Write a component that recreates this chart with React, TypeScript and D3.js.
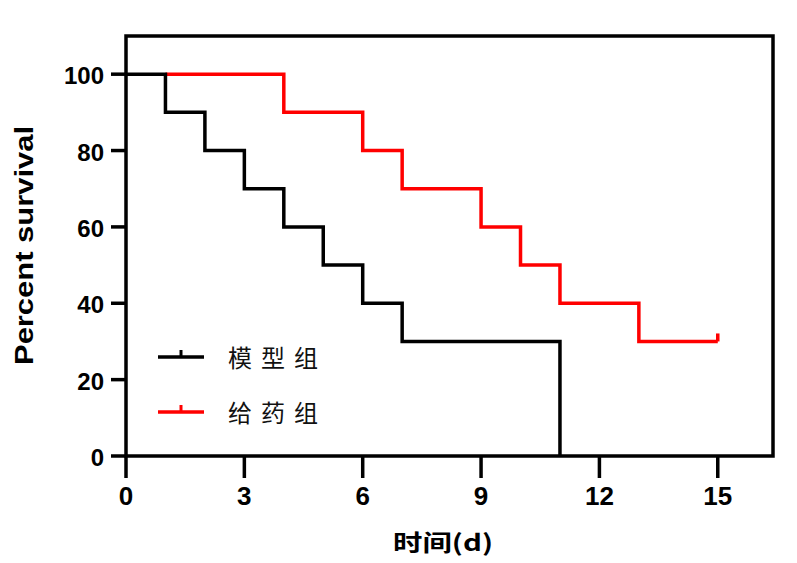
import React, { useEffect, useRef } from 'react';
import * as d3 from 'd3';

const seriesNames = ['模型组', '给药组'];
const seriesColors = ['#000000', '#ff0000'];
// step points [day, percent]
const modelSteps: [number, number][] = [
  [0, 100], [1, 90], [2, 80], [3, 70], [4, 60], [5, 50], [6, 40], [7, 30], [11, 0],
];
const modelEnd = 11;
const drugSteps: [number, number][] = [
  [1, 100], [4, 90], [6, 80], [7, 70], [9, 60], [10, 50], [11, 40], [13, 30],
];
const drugEnd = 15;
const xTicks = [0, 3, 6, 9, 12, 15];
const yTicks = [0, 20, 40, 60, 80, 100];

const App: React.FC = () => {
  const svgRef = useRef<SVGSVGElement>(null);

  useEffect(() => {
    if (!svgRef.current) return;
    const svg = d3.select(svgRef.current);
    svg.selectAll('*').remove();

    const left = 126, right = 773, top = 36, bottom = 456;
    const x = d3.scaleLinear().domain([0, 16.4]).range([left, right]);
    const y = d3.scaleLinear().domain([0, 110]).range([bottom, top]);
    const font = '"Liberation Sans", Arial, sans-serif';

    // frame
    svg.append('rect')
      .attr('x', left).attr('y', top)
      .attr('width', right - left).attr('height', bottom - top)
      .attr('fill', 'none').attr('stroke', '#000').attr('stroke-width', 3.5);

    // y axis ticks
    const yAxis = svg.append('g');
    yTicks.forEach(t => {
      yAxis.append('line')
        .attr('x1', left - 15).attr('x2', left)
        .attr('y1', y(t)).attr('y2', y(t))
        .attr('stroke', '#000').attr('stroke-width', 3.5);
      yAxis.append('text')
        .attr('x', left - 22).attr('y', y(t) + 10)
        .attr('text-anchor', 'end')
        .attr('font-family', font).attr('font-weight', 'bold').attr('font-size', 24)
        .text(t);
    });

    // x axis ticks
    const xAxis = svg.append('g');
    xTicks.forEach(t => {
      xAxis.append('line')
        .attr('x1', x(t)).attr('x2', x(t))
        .attr('y1', bottom).attr('y2', bottom + 22)
        .attr('stroke', '#000').attr('stroke-width', 3.5);
      xAxis.append('text')
        .attr('x', x(t)).attr('y', bottom + 49)
        .attr('text-anchor', 'middle')
        .attr('font-family', font).attr('font-weight', 'bold').attr('font-size', 26)
        .text(t);
    });

    const stepLine = (pts: [number, number][], end: number) => {
      const all: [number, number][] = [...pts, [end, pts[pts.length - 1][1]]];
      return d3.line<[number, number]>()
        .x(d => x(d[0]))
        .y(d => y(d[1]))
        .curve(d3.curveStepAfter)(all);
    };

    // red first, black on top
    svg.append('path')
      .attr('d', stepLine(drugSteps, drugEnd))
      .attr('fill', 'none').attr('stroke', seriesColors[1]).attr('stroke-width', 3.5);
    // censor tick at end of drug group
    const lastDrug = drugSteps[drugSteps.length - 1][1];
    svg.append('line')
      .attr('x1', x(drugEnd)).attr('x2', x(drugEnd))
      .attr('y1', y(lastDrug)).attr('y2', y(lastDrug) - 8)
      .attr('stroke', seriesColors[1]).attr('stroke-width', 3.5);

    svg.append('path')
      .attr('d', stepLine(modelSteps, modelEnd))
      .attr('fill', 'none').attr('stroke', seriesColors[0]).attr('stroke-width', 3.5);

    // legend
    seriesNames.forEach((name, i) => {
      const ly = 357 + i * 55;
      svg.append('line')
        .attr('x1', 158).attr('x2', 204).attr('y1', ly).attr('y2', ly)
        .attr('stroke', seriesColors[i]).attr('stroke-width', 3.5);
      svg.append('line')
        .attr('x1', 181).attr('x2', 181).attr('y1', ly).attr('y2', ly - 7)
        .attr('stroke', seriesColors[i]).attr('stroke-width', 3);
      svg.append('text')
        .attr('x', 228).attr('y', ly + 10)
        .attr('font-family', '"Noto Sans CJK SC", sans-serif').attr('font-size', 24)
        .attr('letter-spacing', 9)
        .attr('fill', '#111')
        .text(name);
    });

    // axis titles
    svg.append('text')
      .attr('x', 393).attr('y', 551)
      .attr('textLength', 100).attr('lengthAdjust', 'spacingAndGlyphs')
      .attr('font-family', '"Noto Sans CJK SC", ' + font).attr('font-weight', 'bold').attr('font-size', 23)
      .text('时间(d)');

    svg.append('text')
      .attr('transform', 'translate(33, 365) rotate(-90)')
      .attr('textLength', 239).attr('lengthAdjust', 'spacingAndGlyphs')
      .attr('font-family', font).attr('font-weight', 'bold').attr('font-size', 25)
      .text('Percent survival');
  }, []);

  return (
    <svg
      ref={svgRef}
      width={797}
      height={563}
      style={{ position: 'absolute', left: 0, top: 0, background: '#fff' }}
    />
  );
};

export default App;
